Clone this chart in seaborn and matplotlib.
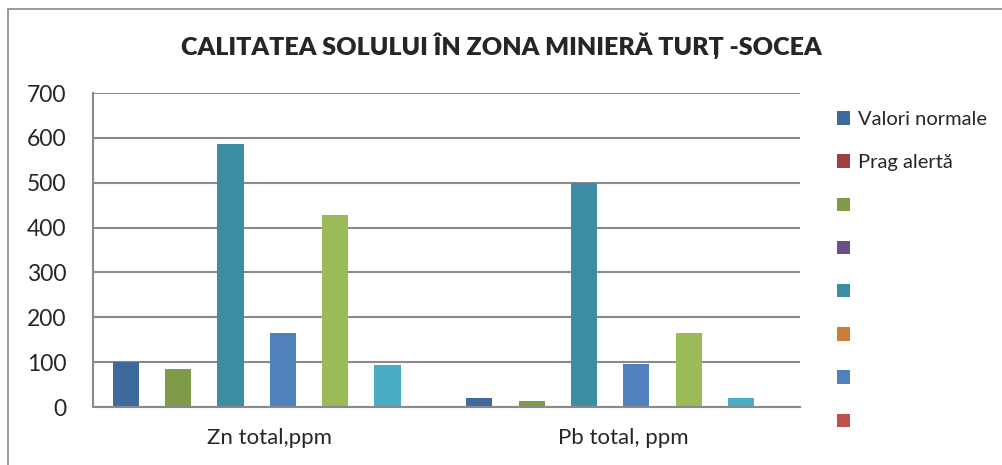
import pandas as pd
import matplotlib
matplotlib.use('Agg')
import matplotlib.pyplot as plt
import seaborn as sns
from matplotlib.patches import Patch, Rectangle

# date
categorii = ['Zn total,ppm', 'Pb total, ppm']
serii = ['Valori normale', 'Prag alertă', 's3', 's4', 's5', 's6',
         's7', 's8', 's9', 's10', 's11', 's12']
etichete_legenda = ['Valori normale', 'Prag alertă', '', '', '', '', '', '']
valori_zn = [100, 0, 85, 0, 587, 0, 166, 0, 428, 0, 94, 0]
valori_pb = [20, 0, 14, 0, 500, 0, 96, 0, 164, 0, 20, 0]
culori = ['#3F6A9D', '#A0403E', '#7F9A48', '#6A4F8A', '#3C8CA3', '#CD7D3A',
          '#4F81BD', '#C0504D', '#9BBB59', '#8064A2', '#4BACC6', '#F79646']

rows = []
for s, z, p in zip(serii, valori_zn, valori_pb):
    rows.append({'categorie': categorii[0], 'serie': s, 'valoare': z})
    rows.append({'categorie': categorii[1], 'serie': s, 'valoare': p})
df = pd.DataFrame(rows)

sns.set_style('white')
plt.rcParams['font.family'] = ['Lato', 'DejaVu Sans']

fig = plt.figure(figsize=(10.02, 4.65), dpi=100)
ax = fig.add_axes([93 / 1002, 1 - 407 / 465, 707 / 1002, 314 / 465])

sns.barplot(data=df, x='categorie', y='valoare', hue='serie', hue_order=serii,
            order=categorii, palette=culori, width=12 / 13.5, linewidth=0,
            errorbar=None, legend=False, ax=ax, saturation=1)

ax.set_ylim(0, 700)
ax.set_xlim(-0.5, 1.5)
ax.set_yticks(range(0, 701, 100))
ax.yaxis.grid(True, color='#8a8a8a', linewidth=1.5)
ax.set_axisbelow(True)
ax.tick_params(axis='y', labelsize=16.5, length=0, pad=19)
ax.tick_params(axis='x', labelsize=16, length=0, pad=15)
ax.set_xlabel('')
ax.set_ylabel('')
for side in ['top', 'right']:
    ax.spines[side].set_visible(False)
ax.spines['left'].set_color('#8a8a8a')
ax.spines['left'].set_linewidth(1.5)
ax.spines['bottom'].set_color('#8a8a8a')
ax.spines['bottom'].set_linewidth(1.5)

fig.text(0.5, 1 - 46 / 465, 'CALITATEA SOLULUI ÎN ZONA MINIERĂ TURȚ -SOCEA',
         ha='center', va='center', fontsize=18, fontweight='heavy')

handles = [Patch(facecolor=c, edgecolor='none') for c in culori[:8]]
fig.legend(handles, etichete_legenda, loc='upper left',
           bbox_to_anchor=(829 / 1002, 1 - 103 / 465), frameon=False,
           fontsize=14.5, handlelength=0.65, handleheight=0.65,
           handletextpad=0.4, labelspacing=1.3, borderaxespad=0)

# chenar exterior
fig.patches.append(Rectangle((8 / 1002, -0.1), 1.1, 1.1 - 9 / 465,
                             transform=fig.transFigure, fill=False,
                             edgecolor='#8a8a8a', linewidth=1.2))

fig.savefig('out.png', dpi=100)
